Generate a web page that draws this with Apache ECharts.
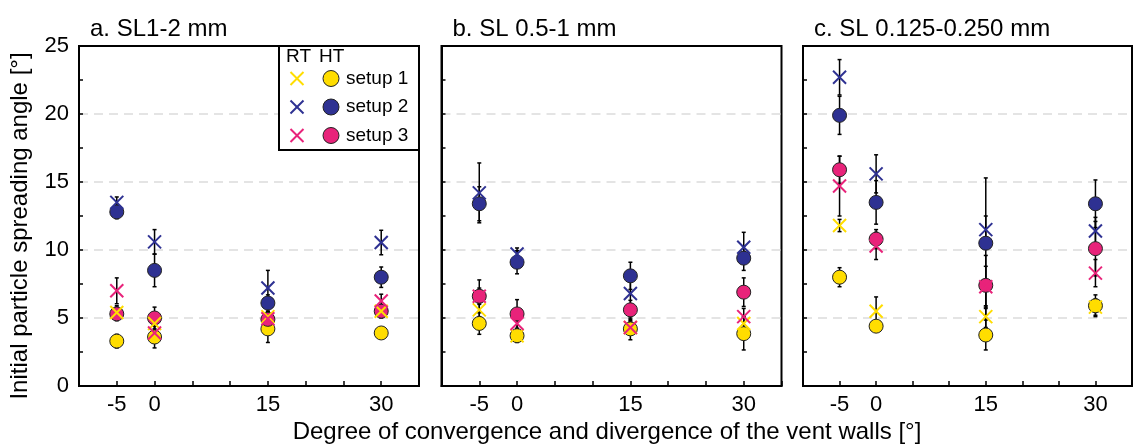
<!DOCTYPE html>
<html>
<head>
<meta charset="utf-8">
<script src="https://cdn.jsdelivr.net/npm/echarts@6/dist/echarts.min.js"></script>
<style>
html,body{margin:0;padding:0;background:#fff;}
#chart{width:1135px;height:444px;}
</style>
</head>
<body>
<div id="chart"></div>
<script>
// ---- data ----
const xValues = [-5, 0, 15, 30];
const xTickLabels = ['-5', '0', '15', '30'];
const panelTitles = ['a. SL1-2 mm', 'b. SL 0.5-1 mm', 'c. SL 0.125-0.250 mm'];
const setupNames = ['setup 1', 'setup 2', 'setup 3'];
const yAxisName = 'Initial particle spreading angle [°]';
const xAxisName = 'Degree of convergence and divergence of the vent walls [°]';

// rows: panels a, b, c ; columns: x = -5, 0, 15, 30
const RT_setup1     = [[5.4, 4.6, 5.1, 5.5], [5.6, 3.7, 4.3, 4.6], [11.8, 5.5, 5.1, 5.8]];
const RT_setup1_err = [[0.5, 0.5, 0.4, 0.4], [0.5, 0.4, 0.4, 0.5], [0.45, 1.05, 0.8, 0.6]];
const RT_setup2     = [[13.5, 10.6, 7.2, 10.55], [14.2, 9.7, 6.8, 10.2], [22.7, 15.6, 11.5, 11.4]];
const RT_setup2_err = [[0.4, 0.9, 1.3, 0.9], [2.2, 0.45, 0.9, 1.1], [1.3, 1.4, 1.0, 1.0]];
const RT_setup3     = [[7.0, 3.9, 4.95, 6.25], [6.6, 4.6, 4.3, 5.1], [14.7, 10.3, 7.3, 8.3]];
const RT_setup3_err = [[0.95, 0.7, 0.4, 0.5], [0.6, 0.6, 0.5, 0.6], [2.2, 1.0, 1.5, 1.0]];
const HT_setup1     = [[3.3, 3.6, 4.2, 3.9], [4.6, 3.7, 4.2, 3.85], [8.0, 4.4, 3.75, 5.9]];
const HT_setup1_err = [[0.5, 0.8, 1.0, 0.3], [0.8, 0.5, 0.8, 1.2], [0.7, 0.3, 1.1, 0.8]];
const HT_setup2     = [[12.8, 8.5, 6.1, 8.0], [13.4, 9.1, 8.1, 9.4], [19.9, 13.5, 10.5, 13.4]];
const HT_setup2_err = [[0.5, 1.2, 0.6, 0.75], [1.25, 0.85, 1.0, 0.9], [1.4, 1.6, 4.8, 1.75]];
const HT_setup3     = [[5.3, 5.0, 4.9, 5.5], [6.6, 5.3, 5.6, 6.9], [15.9, 10.8, 7.4, 10.1]];
const HT_setup3_err = [[0.5, 0.8, 0.5, 0.5], [1.2, 1.05, 0.7, 1.05], [1.0, 0.7, 2.2, 2.0]];

// ---- styling ----
const FONT = "'Liberation Sans', Arial, Helvetica, sans-serif";
const setupColors = ['#FFDD00', '#2E3192', '#E8237A'];
const gridLefts = [79, 441.5, 803];
const gridTop = 46, gridW = 340, gridH = 340;

const RT = [RT_setup1, RT_setup2, RT_setup3];
const RTe = [RT_setup1_err, RT_setup2_err, RT_setup3_err];
const HT = [HT_setup1, HT_setup2, HT_setup3];
const HTe = [HT_setup1_err, HT_setup2_err, HT_setup3_err];

const grids = [], xAxes = [], yAxes = [], series = [], titles = [];

function errRender(params, api) {
  const x = api.value(0), lo = api.value(1), hi = api.value(2);
  const p1 = api.coord([x, lo]), p2 = api.coord([x, hi]);
  const cw = 2;
  const st = { stroke: '#000', lineWidth: 1.5 };
  return {
    type: 'group',
    children: [
      { type: 'line', shape: { x1: p1[0], y1: p1[1], x2: p2[0], y2: p2[1] }, style: st },
      { type: 'line', shape: { x1: p1[0] - cw, y1: p1[1], x2: p1[0] + cw, y2: p1[1] }, style: st },
      { type: 'line', shape: { x1: p2[0] - cw, y1: p2[1], x2: p2[0] + cw, y2: p2[1] }, style: st }
    ]
  };
}
function xMarkRender(color) {
  return function (params, api) {
    const p = api.coord([api.value(0), api.value(1)]);
    const s = 6.5;
    const st = { stroke: color, lineWidth: 2 };
    return {
      type: 'group',
      children: [
        { type: 'line', shape: { x1: p[0] - s, y1: p[1] - s, x2: p[0] + s, y2: p[1] + s }, style: st },
        { type: 'line', shape: { x1: p[0] - s, y1: p[1] + s, x2: p[0] + s, y2: p[1] - s }, style: st }
      ]
    };
  };
}

for (let g = 0; g < 3; g++) {
  grids.push({
    left: gridLefts[g], top: gridTop, width: gridW, height: gridH,
    show: true, borderColor: '#000', borderWidth: 2, backgroundColor: 'transparent'
  });
  xAxes.push({
    gridIndex: g, type: 'value', min: -10, max: 35, interval: 5,
    axisLine: { show: true, onZero: false, lineStyle: { color: '#000', width: 2 } },
    axisTick: { show: true, inside: true, length: 5, lineStyle: { color: '#000', width: 1.5 } },
    axisLabel: {
      fontSize: 22, color: '#000', fontFamily: FONT, margin: 8,
      formatter: v => { const i = xValues.indexOf(v); return i >= 0 ? xTickLabels[i] : ''; }
    },
    splitLine: { show: false }
  });
  yAxes.push({
    gridIndex: g, type: 'value', min: 0, max: 25, interval: 5,
    axisLine: { show: true, onZero: false, lineStyle: { color: '#000', width: 2 } },
    axisTick: { show: true, inside: true, length: 4, lineStyle: { color: '#000', width: 1.5 } },
    minorTick: { show: true, splitNumber: 2, length: 4, lineStyle: { color: '#000', width: 1.5 } },
    axisLabel: { show: g === 0, fontSize: 22, color: '#000', fontFamily: FONT, margin: 10 },
    splitLine: { show: true, showMinLine: false, showMaxLine: false,
      lineStyle: { color: '#dcdcdc', width: 1.5, type: [9, 6] } }
  });
  titles.push({
    text: panelTitles[g], left: gridLefts[g] + 6, top: 12,
    textStyle: { fontSize: 24, fontWeight: 'normal', color: '#000', fontFamily: FONT }
  });

  // error bars (behind)
  for (let s = 0; s < 3; s++) {
    const errData = [];
    xValues.forEach((x, i) => {
      errData.push([x, RT[s][g][i] - RTe[s][g][i], RT[s][g][i] + RTe[s][g][i]]);
      errData.push([x, HT[s][g][i] - HTe[s][g][i], HT[s][g][i] + HTe[s][g][i]]);
    });
    series.push({
      type: 'custom', name: 'err ' + setupNames[s], xAxisIndex: g, yAxisIndex: g,
      renderItem: errRender, encode: { x: 0, y: [1, 2] }, data: errData, z: 1, silent: true
    });
  }
  // HT circles
  for (let s = 0; s < 3; s++) {
    series.push({
      type: 'scatter', name: 'HT ' + setupNames[s], xAxisIndex: g, yAxisIndex: g,
      symbol: 'circle', symbolSize: 14,
      itemStyle: { color: setupColors[s], borderColor: '#222', borderWidth: 1, opacity: 1 },
      data: xValues.map((x, i) => [x, HT[s][g][i]]), z: 3
    });
  }
  // RT crosses
  for (let s = 0; s < 3; s++) {
    series.push({
      type: 'custom', name: 'RT ' + setupNames[s], xAxisIndex: g, yAxisIndex: g,
      renderItem: xMarkRender(setupColors[s]), encode: { x: 0, y: 1 },
      data: xValues.map((x, i) => [x, RT[s][g][i]]), z: 4
    });
  }
}

// legend box (panel a, top right) and axis names
const lgX = 279, lgY = 46, lgW = 140, lgH = 104;
const graphics = [
  { type: 'rect', z: 100, shape: { x: lgX, y: lgY, width: lgW, height: lgH },
    style: { fill: '#fff', stroke: '#000', lineWidth: 2 } },
  { type: 'text', z: 101, x: 286, y: 57,
    style: { text: 'RT', font: '19px ' + FONT, fill: '#000', verticalAlign: 'middle' } },
  { type: 'text', z: 101, x: 319, y: 57,
    style: { text: 'HT', font: '19px ' + FONT, fill: '#000', verticalAlign: 'middle' } }
];
const rowY = [78.5, 107, 135.5];
for (let s = 0; s < 3; s++) {
  const cx = 297, cy = rowY[s], d = 6.5;
  graphics.push({ type: 'line', z: 101, shape: { x1: cx - d, y1: cy - d, x2: cx + d, y2: cy + d },
    style: { stroke: setupColors[s], lineWidth: 2 } });
  graphics.push({ type: 'line', z: 101, shape: { x1: cx - d, y1: cy + d, x2: cx + d, y2: cy - d },
    style: { stroke: setupColors[s], lineWidth: 2 } });
  graphics.push({ type: 'circle', z: 101, shape: { cx: 331, cy: cy, r: 8 },
    style: { fill: setupColors[s], stroke: '#222', lineWidth: 1 } });
  graphics.push({ type: 'text', z: 101, x: 346, y: cy,
    style: { text: setupNames[s], font: '19px ' + FONT, fill: '#000', verticalAlign: 'middle' } });
}
graphics.push({ type: 'text', x: 20, y: 226, rotation: Math.PI / 2,
  style: { text: yAxisName, font: '24px ' + FONT, fill: '#000', align: 'center', verticalAlign: 'middle' } });
graphics.push({ type: 'text', x: 607, y: 432,
  style: { text: xAxisName, font: '24px ' + FONT, fill: '#000', align: 'center', verticalAlign: 'middle' } });

const chart = echarts.init(document.getElementById('chart'), null, { renderer: 'canvas' });
chart.setOption({
  animation: false,
  backgroundColor: '#fff',
  title: titles,
  grid: grids,
  xAxis: xAxes,
  yAxis: yAxes,
  series: series,
  graphic: graphics
});
</script>
</body>
</html>
